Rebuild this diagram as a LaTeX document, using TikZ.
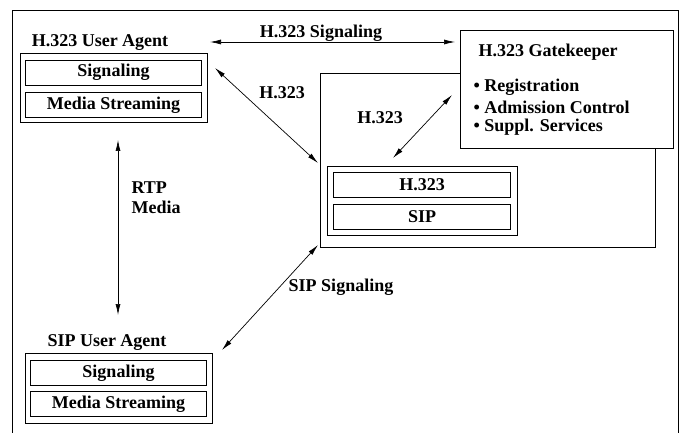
\documentclass[tikz,border=0pt]{standalone}
\usepackage{fontspec}
\setmainfont{Liberation Serif}
\usetikzlibrary{arrows.meta}

\begin{document}
\begin{tikzpicture}[x=1pt,y=-1pt,>={Latex[length=11pt,width=5pt]},
    font=\fontsize{18}{20}\selectfont\bfseries,
    box/.style={draw, line width=0.8pt, inner sep=0pt, fill=white},
    layer/.style={box, minimum width=176pt, minimum height=25pt},
    link/.style={<->, line width=0.7pt}]

    \useasboundingbox (0,0) rectangle (680,433);

    % Outer frame
    \draw[line width=0.6pt] (12,433) -- (12,10) -- (678,10) -- (678,433);

    %%% H.323 USER AGENT
    \node (uaTitle) at (100,43) {H.323 User Agent};
    \node[box, minimum width=187pt, minimum height=69pt] (ua) at (113.5,87.5) {};
    \node[layer] (uaSig) at (113.5,72.5) {Signaling};
    \node[layer] (uaMedia) at (113.5,105) {Media Streaming};

    %%% GATEWAY
    \node[box, minimum width=335pt, minimum height=174pt] (gw) at (487.5,160) {};
    \node[box, minimum width=190pt, minimum height=69pt] (gwIn) at (422,200.5) {};
    \node[layer, minimum width=177pt] (gwH) at (422,184.5) {H.323};
    \node[layer, minimum width=177pt] (gwSip) at (422,217) {SIP};

    %%% GATEKEEPER
    \node[box, minimum width=213pt, minimum height=118pt] (gk) at (566.5,89) {};
    \node[anchor=west] (gkTitle) at (475,52) {H.323 Gatekeeper};
    \node[anchor=west] (gkReg) at (470,87) {\textbullet\ Registration};
    \node[anchor=west] (gkAdm) at (470,107) {\textbullet\ Admission Control};
    \node[anchor=west] (gkSup) at (470,127) {\textbullet\ Suppl. Services};

    %%% SIP USER AGENT
    \node (sipTitle) at (107,343) {SIP User Agent};
    \node[box, minimum width=187pt, minimum height=70pt] (sip) at (118.5,388) {};
    \node[layer] (sipSig) at (118.5,373) {Signaling};
    \node[layer] (sipMedia) at (118.5,404) {Media Streaming};

    % Arrow ends
    \coordinate (sigL) at (210,42);
    \coordinate (sigR) at (455,42);
    \coordinate (h1A) at (215,68);
    \coordinate (h1B) at (318,163);
    \coordinate (h2A) at (452,95);
    \coordinate (h2B) at (393,158);
    \coordinate (rtpA) at (118,140);
    \coordinate (rtpB) at (118,315);
    \coordinate (sipA) at (318,245);
    \coordinate (sipB) at (222,350);

    % Connectors
    \draw[link] (sigL) -- (sigR);
    \draw[link] (h1A) -- (h1B);
    \draw[link] (h2A) -- (h2B);
    \draw[link] (rtpA) -- (rtpB);
    \draw[link] (sipA) -- (sipB);

    % Labels
    \node (sigLabel) at (321,33) {H.323 Signaling};
    \node (h1Label) at (282,93) {H.323};
    \node (h2Label) at (380,118) {H.323};
    \node[anchor=west, align=left] (rtpLabel) at (128,198) {RTP\\Media};
    \node (sipLabel) at (341,287) {SIP Signaling};
\end{tikzpicture}
\end{document}
